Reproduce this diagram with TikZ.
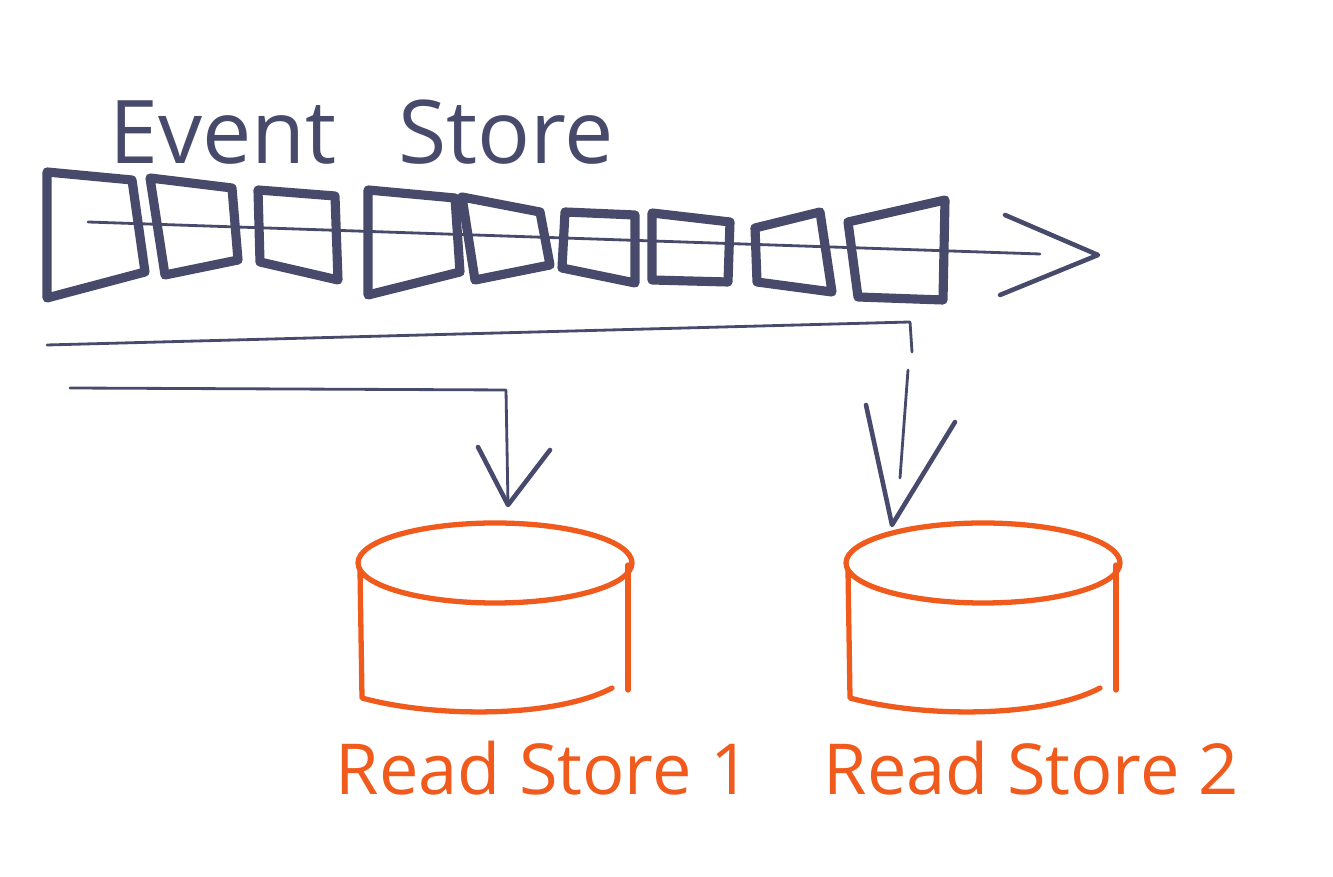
\documentclass[tikz,border=0pt]{standalone}
\usepackage{fontspec}
\setmainfont{Open Sans}
\definecolor{ink}{HTML}{474A6B}
\definecolor{rust}{HTML}{F05A1C}
\begin{document}
\begin{tikzpicture}[x=0.01cm, y=-0.01cm, line join=round, line cap=round]
  \tikzstyle{frame} = [draw=ink, line width=2.6pt]
  \tikzstyle{flow} = [draw=ink, line width=0.8pt]
  \tikzstyle{tip} = [draw=ink, line width=1.3pt]
  \tikzstyle{store} = [draw=rust, line width=1.5pt]
  \tikzstyle{title} = [text=ink, font=\fontsize{25}{30}\selectfont]
  \tikzstyle{label} = [text=rust, font=\fontsize{20}{24}\selectfont]

  \useasboundingbox (0,0) rectangle (1333,877);

  \node[title] (title) at (362,132) {Event\hspace{0.7em}Store};

  % events in the stream
  \foreach \ax/\ay/\bx/\by/\cx/\cy/\dx/\dy in {
      47/172/132/180/145/272/47/298,
      150/178/232/188/238/260/165/275,
      258/190/335/196/338/280/260/262,
      368/190/455/198/460/272/368/295,
      462/197/540/212/550/265/475/280,
      565/212/635/215/635/283/562/268,
      652/213/730/222/728/282/652/280,
      755/228/820/212/832/292/757/282,
      848/222/945/200/943/300/858/297}
    \draw[frame] (\ax,\ay) -- (\bx,\by) -- (\cx,\cy) -- (\dx,\dy) -- cycle;

  % time axis
  \coordinate (axis0) at (88,222);
  \coordinate (axis1) at (1040,254);
  \coordinate (axisL) at (1005,215);
  \coordinate (axisT) at (1098,255);
  \coordinate (axisR) at (1000,295);
  \draw[flow] (axis0) -- (axis1);
  \draw[tip] (axisL) -- (axisT) -- (axisR);

  % projection to read store 2
  \coordinate (sub2a) at (47,345);
  \coordinate (sub2b) at (910,322);
  \coordinate (sub2c) at (912,352);
  \coordinate (sub2d) at (908,370);
  \coordinate (sub2e) at (900,478);
  \coordinate (sub2L) at (866,405);
  \coordinate (sub2T) at (892,525);
  \coordinate (sub2R) at (955,422);
  \draw[flow] (sub2a) -- (sub2b) -- (sub2c);
  \draw[flow] (sub2d) -- (sub2e);
  \draw[tip] (sub2L) -- (sub2T) -- (sub2R);

  % projection to read store 1
  \coordinate (sub1a) at (70,388);
  \coordinate (sub1b) at (506,390);
  \coordinate (sub1c) at (508,505);
  \coordinate (sub1L) at (478,447);
  \coordinate (sub1T) at (508,505);
  \coordinate (sub1R) at (550,450);
  \draw[flow] (sub1a) -- (sub1b) -- (sub1c);
  \draw[tip] (sub1L) -- (sub1T) -- (sub1R);

  % read stores
  \foreach \x/\n in {495/1, 983/2} {
    \draw[store] (\x,563) ellipse (137 and 40);
    \draw[store] (\x-135,570) -- (\x-133,698) .. controls (\x-60,718) and (\x+60,718) .. (\x+117,688);
    \draw[store] (\x+133,565) -- (\x+133,690);
    \node[label] (rs\n) at (\x+48,768) {Read Store \n};
  }
\end{tikzpicture}
\end{document}
